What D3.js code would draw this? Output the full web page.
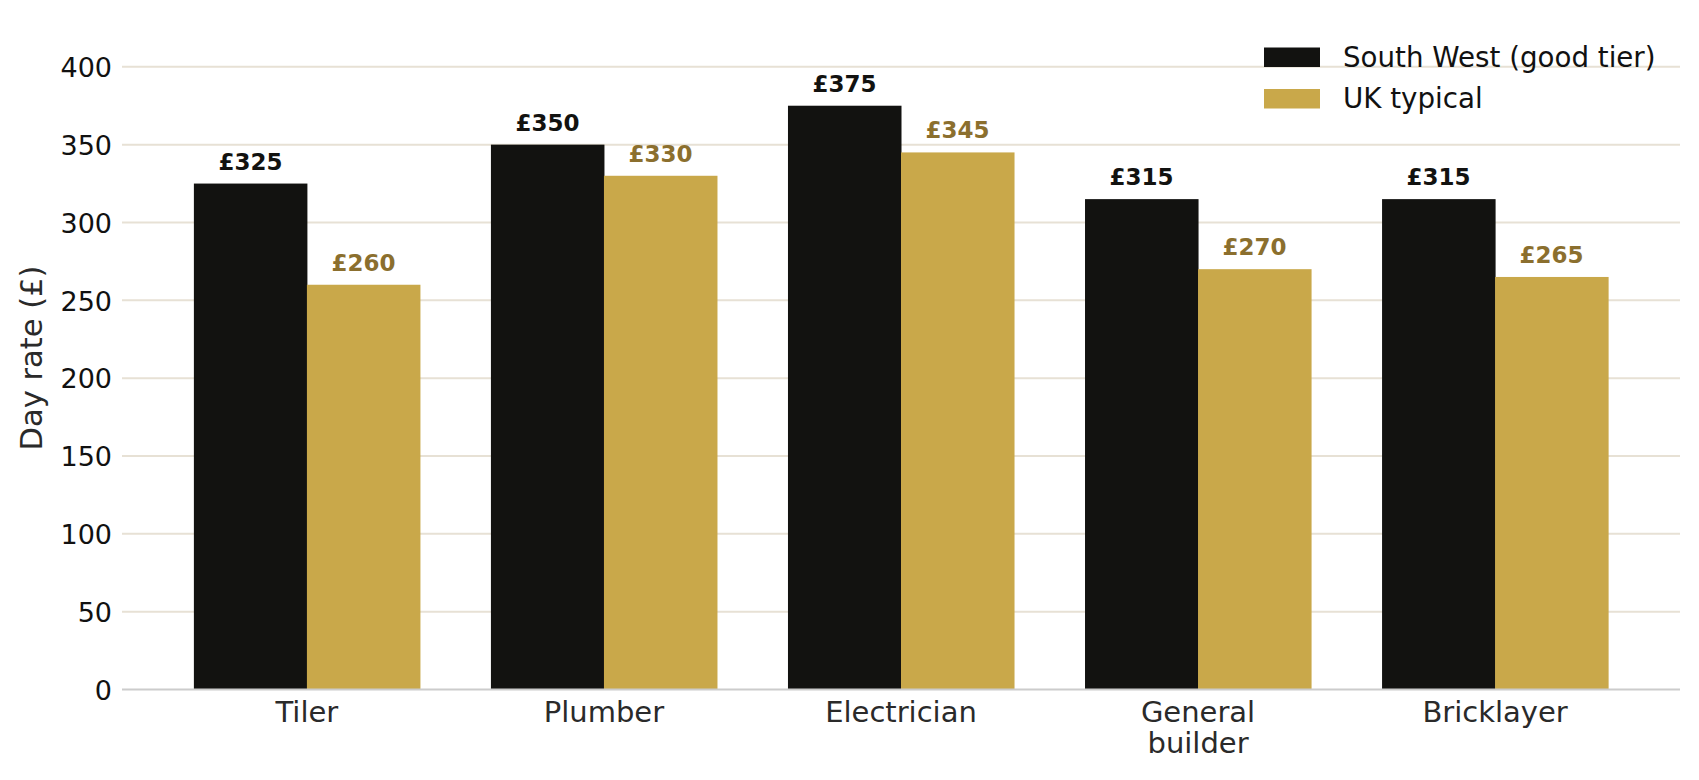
<!DOCTYPE html>
<html>
<head>
<meta charset="utf-8">
<script src="https://cdn.jsdelivr.net/npm/d3@7"></script>
<style>
  html, body { margin: 0; padding: 0; background: #ffffff; }
  svg { display: block; font-family: "DejaVu Sans", sans-serif; }
</style>
</head>
<body>
<svg id="chart" width="1699" height="780"></svg>
<script>
// Chart data
const trades = [['Tiler'], ['Plumber'], ['Electrician'], ['General', 'builder'], ['Bricklayer']];
const tradeKeys = trades.map(t => t.join(' '));
const seriesNames = ['South West (good tier)', 'UK typical'];
const southWest = [325, 350, 375, 315, 315];
const ukTypical = [260, 330, 345, 270, 265];
const yTicks = [0, 50, 100, 150, 200, 250, 300, 350, 400];

const colors = { sw: '#121210', uk: '#c9a84a', ukText: '#8b6f2e', grid: '#e7e1d5', base: '#cccccc' };

const svg = d3.select('#chart');
const plot = { left: 122, right: 1680, top: 66.8, bottom: 689.5 };

// x: one band per trade, split in two for the series
const x0 = d3.scaleBand()
    .domain(tradeKeys)
    .range([plot.left, plot.right])
    .paddingInner(0.239)
    .paddingOuter(0.242);

const x1 = d3.scaleBand()
    .domain(seriesNames)
    .range([0, x0.bandwidth()]);

const y = d3.scaleLinear()
    .domain([0, 400])
    .range([plot.bottom, plot.top]);

// gridlines
svg.append('g')
    .selectAll('line')
    .data(yTicks.slice(1))
    .enter().append('line')
    .attr('x1', plot.left)
    .attr('x2', plot.right)
    .attr('y1', d => y(d))
    .attr('y2', d => y(d))
    .attr('stroke', colors.grid)
    .attr('stroke-width', 2);

// y axis (labels only)
const yAxis = svg.append('g')
    .attr('transform', `translate(${plot.left},0)`)
    .call(d3.axisLeft(y).tickValues(yTicks).tickSize(0).tickPadding(10));
yAxis.select('.domain').remove();
yAxis.selectAll('text')
    .attr('font-family', '"DejaVu Sans", sans-serif')
    .attr('font-size', 27)
    .attr('fill', '#111111')
    .attr('dy', '0.36em');

svg.append('text')
    .attr('transform', `translate(42,358) rotate(-90)`)
    .attr('text-anchor', 'middle')
    .attr('font-size', 30.5)
    .attr('fill', '#2a2a2a')
    .text('Day rate (£)');

// bars
const rows = tradeKeys.map((k, i) => ({ key: k, values: [southWest[i], ukTypical[i]] }));

const groups = svg.append('g')
    .selectAll('g')
    .data(rows)
    .enter().append('g')
    .attr('transform', d => `translate(${x0(d.key)},0)`);

groups.selectAll('rect')
    .data(d => d.values.map((v, j) => ({ series: seriesNames[j], value: v, j })))
    .enter().append('rect')
    .attr('x', d => x1(d.series))
    .attr('y', d => y(d.value))
    .attr('width', x1.bandwidth() + 0.5)
    .attr('height', d => y(0) - y(d.value))
    .attr('fill', d => d.j === 0 ? colors.sw : colors.uk);

groups.selectAll('text')
    .data(d => d.values.map((v, j) => ({ series: seriesNames[j], value: v, j })))
    .enter().append('text')
    .attr('x', d => x1(d.series) + x1.bandwidth() / 2)
    .attr('y', d => y(d.value) - 14)
    .attr('text-anchor', 'middle')
    .attr('font-size', 23)
    .attr('font-weight', 'bold')
    .attr('fill', d => d.j === 0 ? colors.sw : colors.ukText)
    .text(d => `£${d.value}`);

// baseline
svg.append('line')
    .attr('x1', plot.left)
    .attr('x2', plot.right)
    .attr('y1', y(0))
    .attr('y2', y(0))
    .attr('stroke', colors.base)
    .attr('stroke-width', 2);

// x category labels (multi-line)
const xLabels = svg.append('g')
    .selectAll('text')
    .data(trades)
    .enter().append('text')
    .attr('x', (d, i) => x0(tradeKeys[i]) + x0.bandwidth() / 2)
    .attr('y', y(0) + 32)
    .attr('text-anchor', 'middle')
    .attr('font-size', 29)
    .attr('fill', '#2a2a2a');

xLabels.selectAll('tspan')
    .data(d => d)
    .enter().append('tspan')
    .attr('x', function () { return d3.select(this.parentNode).attr('x'); })
    .attr('dy', (d, i) => i === 0 ? 0 : 31.5)
    .text(d => d);

// legend
const legend = svg.append('g')
    .attr('transform', 'translate(1264,47.5)');

const legendItems = legend.selectAll('g')
    .data(seriesNames)
    .enter().append('g')
    .attr('transform', (d, i) => `translate(0,${i * 41.5})`);

legendItems.append('rect')
    .attr('width', 56)
    .attr('height', 19.5)
    .attr('fill', (d, i) => i === 0 ? colors.sw : colors.uk);

legendItems.append('text')
    .attr('x', 79)
    .attr('y', 19.2)
    .attr('font-size', 27.7)
    .attr('fill', '#111111')
    .text(d => d);
</script>
</body>
</html>
